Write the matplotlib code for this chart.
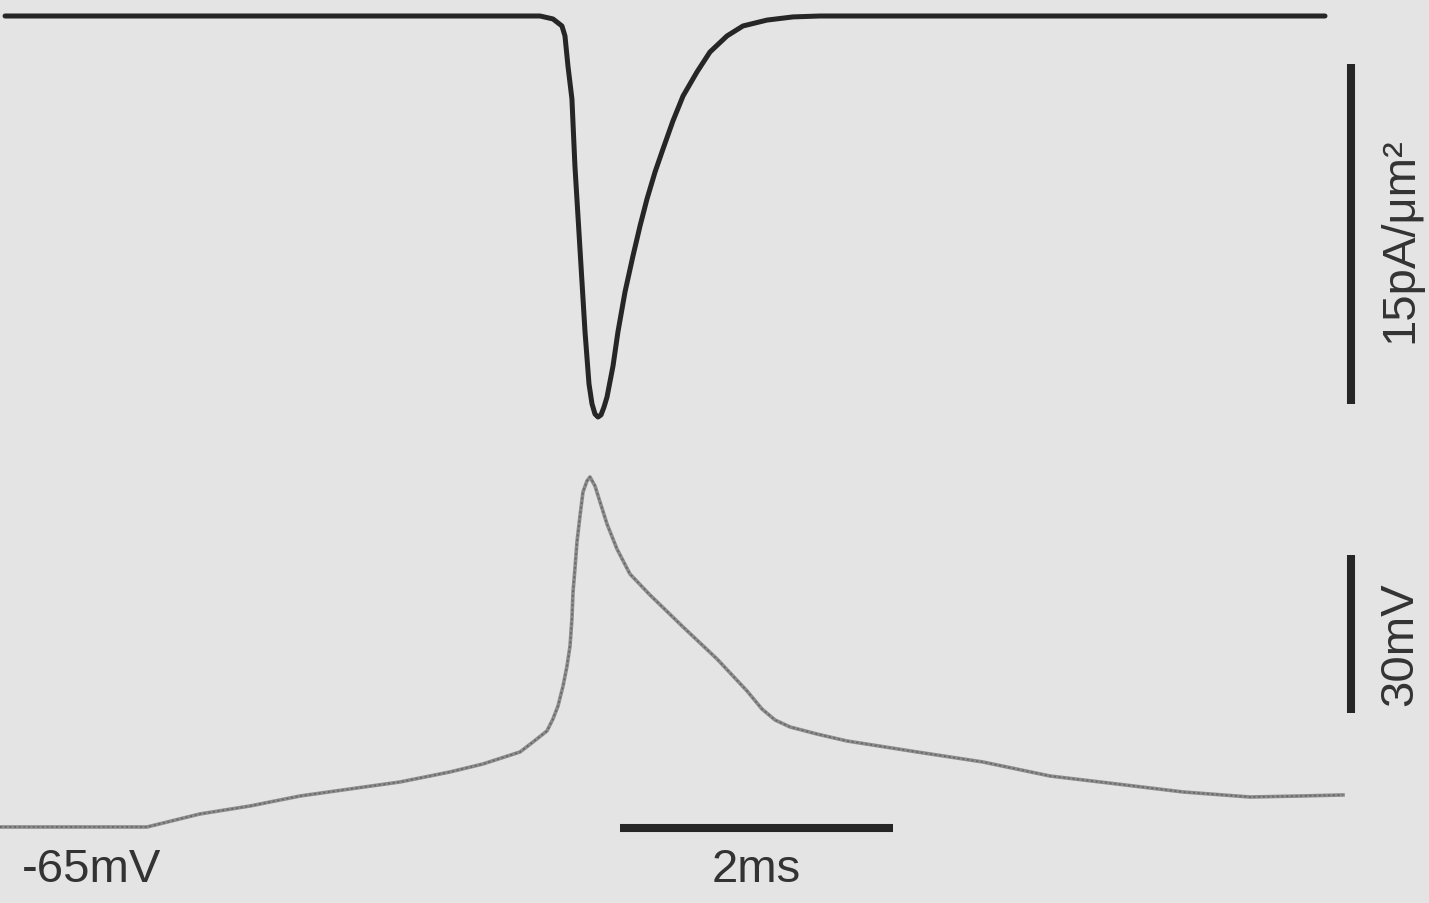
import matplotlib
matplotlib.use("Agg")
import matplotlib.pyplot as plt

plt.rcParams['font.family'] = ['Liberation Sans', 'DejaVu Sans']

# Membrane current density (pA/um^2) vs time (ms)
current_t = [0.037, 3.956, 4.051, 4.117, 4.139, 4.161, 4.190, 4.212, 4.249, 4.286,
             4.315, 4.337, 4.359, 4.381, 4.403, 4.425, 4.447, 4.491, 4.527, 4.579,
             4.637, 4.689, 4.740, 4.799, 4.857, 4.930, 5.004, 5.106, 5.201, 5.326,
             5.443, 5.619, 5.810, 6.007, 9.707]
current_i = [0.0, 0.0, -0.13, -0.44, -0.88, -2.21, -3.66, -6.62, -10.28, -13.94,
             -16.23, -17.11, -17.56, -17.69, -17.60, -17.25, -16.81, -15.44, -13.94, -12.17,
             -10.59, -9.26, -8.07, -6.88, -5.87, -4.63, -3.53, -2.47, -1.59, -0.88,
             -0.44, -0.18, -0.04, 0.0, 0.0]

# Membrane potential (mV) vs time (ms)
voltage_t = [0.0, 1.077, 1.465, 1.832, 2.198, 2.564, 2.930, 3.297, 3.538, 3.810,
             3.905, 4.007, 4.051, 4.088, 4.125, 4.154, 4.176, 4.190, 4.198, 4.212,
             4.227, 4.249, 4.271, 4.300, 4.322, 4.359, 4.396, 4.447, 4.520, 4.615,
             4.762, 5.004, 5.253, 5.473, 5.582, 5.678, 5.788, 5.985,
             6.205, 6.718, 7.201, 7.692, 8.183, 8.667, 9.158, 9.524, 9.839]
voltage_v = [-65.0, -65.0, -62.52, -61.0, -59.10, -57.76, -56.43, -54.52, -53.0, -50.71,
             -48.81, -46.71, -44.43, -41.95, -38.14, -34.33, -30.52, -25.38, -20.24, -15.86,
             -10.71, -5.76, -1.19, 0.90, 1.67, -0.05, -3.10, -7.29, -12.05, -16.81,
             -20.81, -26.90, -33.0, -39.10, -42.52, -44.62, -45.95, -47.29,
             -48.62, -50.71, -52.62, -55.29, -56.81, -58.33, -59.29, -59.10, -58.90]

# Scale bar sizes and labels
time_bar_ms = 2.0
current_bar = 15.0
voltage_bar = 30.0
rest_label = "-65mV"
time_label = "2ms"
current_label = "15pA/\u03bcm\u00b2"
voltage_label = "30mV"

bg = '#e4e4e4'
ink = '#262626'
text_col = '#333333'

fig = plt.figure(figsize=(14.29, 9.04), dpi=100, facecolor=bg)

x_range = (0, 10.469)

ax_i = fig.add_axes([0, 0, 1, 1])
ax_i.set_xlim(*x_range)
ax_i.set_ylim(-39.13, 0.75)
ax_i.axis('off')
ax_i.patch.set_alpha(0)

ax_v = fig.add_axes([0, 0, 1, 1])
ax_v.set_xlim(*x_range)
ax_v.set_ylim(-79.48, 92.71)
ax_v.axis('off')
ax_v.patch.set_alpha(0)

# Traces
ax_i.plot(current_t, current_i, color=ink, lw=3.6, solid_joinstyle='round',
          solid_capstyle='round')
ax_v.plot(voltage_t, voltage_v, color='#8c8c8c', lw=2.6, solid_joinstyle='round')
ax_v.plot(voltage_t, voltage_v, color='#666666', lw=1.2, ls=(0, (1.2, 1.6)))

# Scale bars
bar_x = 9.897
bar_lw = 5.8
ax_i.plot([bar_x, bar_x], [-2.12, -2.12 - current_bar], color=ink, lw=bar_lw,
          solid_capstyle='butt')
ax_v.plot([bar_x, bar_x], [-13.2, -13.2 - voltage_bar], color=ink, lw=bar_lw,
          solid_capstyle='butt')
ax_v.plot([4.542, 4.542 + time_bar_ms], [-65.2, -65.2], color=ink, lw=bar_lw,
          solid_capstyle='butt')

# Labels
fs = 34
ax_v.text(0.674, -73.0, rest_label, fontsize=fs, color=text_col, ha='center', va='center')
ax_v.text(4.542 + time_bar_ms / 2, -73.0, time_label, fontsize=fs, color=text_col,
          ha='center', va='center')
ax_i.text(10.256, -9.84, current_label, fontsize=fs, color=text_col, rotation=90,
          ha='center', va='center')
ax_v.text(10.256, -29.95, voltage_label, fontsize=fs, color=text_col, rotation=90,
          ha='center', va='center')

fig.savefig('out.png', dpi=100, facecolor=bg)
